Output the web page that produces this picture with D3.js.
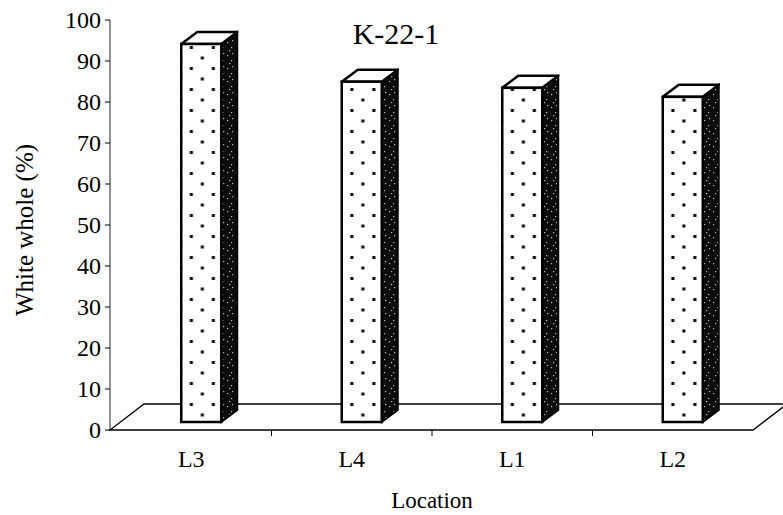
<!DOCTYPE html>
<html lang="en">
<head>
    <meta charset="UTF-8">
    <title>K-22-1 White whole</title>
    <style>
        body { margin: 0; background: #fff; }
        svg { display: block; }
    </style>
    <script src="https://cdn.jsdelivr.net/npm/d3@7"></script>
</head>
<body>
    <div id="chart"></div>

    <script>
        // Data
        const categories = ["L3", "L4", "L1", "L2"];
        const whiteWhole = [92.2, 83, 81.5, 79.3];
        const yTicks = [0, 10, 20, 30, 40, 50, 60, 70, 80, 90, 100];

        const W = 783, H = 515;
        const serif = '"Liberation Serif"';

        const svg = d3.select('#chart').append('svg')
            .attr('width', W)
            .attr('height', H);

        // front edge of the floor = the axis
        const x = d3.scaleBand()
            .domain(categories)
            .range([111, 753]);

        const y = d3.scaleLinear()
            .domain([0, 100])
            .range([430, 20]);

        // pseudo 3d offsets
        const floorDepth = { dx: 34, dy: -26 };
        const barShift = { dx: 10, dy: -8 };   // bars stand a bit behind the front edge
        const barDepth = { dx: 16, dy: -12 };
        const barW = 40;

        const defs = svg.append('defs');

        // dotted front face, one pattern per bar so dots line up with the face
        categories.forEach((c, i) => {
            const left = x(c) + x.bandwidth() / 2 - barW / 2 + barShift.dx;
            const p = defs.append('pattern')
                .attr('id', 'dots' + i)
                .attr('patternUnits', 'userSpaceOnUse')
                .attr('x', left)
                .attr('y', 0)
                .attr('width', 22)
                .attr('height', 21);
            p.append('rect').attr('width', 22).attr('height', 21).attr('fill', '#fff');
            p.append('rect').attr('x', 8.6).attr('y', 4).attr('width', 3).attr('height', 3).attr('fill', '#000');
            p.append('rect').attr('x', 19.6).attr('y', 14.5).attr('width', 3).attr('height', 3).attr('fill', '#000');
            p.append('rect').attr('x', -2.4).attr('y', 14.5).attr('width', 3).attr('height', 3).attr('fill', '#000');
        });

        // dark speckled side face
        const sp = defs.append('pattern')
            .attr('id', 'speckle')
            .attr('patternUnits', 'userSpaceOnUse')
            .attr('width', 9)
            .attr('height', 13);
        sp.append('rect').attr('width', 9).attr('height', 13).attr('fill', '#0c0c0c');
        [[2, 3], [6, 8], [4, 11], [7, 1]].forEach(d => {
            sp.append('rect').attr('x', d[0]).attr('y', d[1])
                .attr('width', 1.2).attr('height', 1.2).attr('fill', '#bbb');
        });

        // floor
        const x0 = 110, x1 = 753, y0 = y(0);
        svg.append('path')
            .attr('d', `M${x0},${y0} L${x1},${y0} L${x1 + floorDepth.dx},${y0 + floorDepth.dy} L${x0 + floorDepth.dx},${y0 + floorDepth.dy} Z`)
            .attr('fill', 'none')
            .attr('stroke', '#000')
            .attr('stroke-width', 1.3);

        // category ticks on the front edge
        svg.selectAll('.xtick')
            .data(categories.slice(1))
            .enter().append('line')
              .attr('x1', d => x(d)).attr('x2', d => x(d))
              .attr('y1', y0).attr('y2', y0 + 6)
              .attr('stroke', '#000');

        svg.selectAll('.xlab')
            .data(categories)
            .enter().append('text')
              .attr('x', d => x(d) + x.bandwidth() / 2)
              .attr('y', 467)
              .attr('text-anchor', 'middle')
              .style('font-family', serif)
              .style('font-size', '24px')
              .text(d => d);

        // y axis
        svg.append('line')
            .attr('x1', x0).attr('x2', x0)
            .attr('y1', y(0)).attr('y2', y(100))
            .attr('stroke', '#222')
            .attr('stroke-width', 1);

        svg.selectAll('.ytick')
            .data(yTicks)
            .enter().append('line')
              .attr('x1', x0 - 5).attr('x2', x0)
              .attr('y1', d => y(d)).attr('y2', d => y(d))
              .attr('stroke', '#000');

        svg.selectAll('.ylab')
            .data(yTicks)
            .enter().append('text')
              .attr('x', x0 - 9)
              .attr('y', d => y(d))
              .attr('dy', '0.35em')
              .attr('text-anchor', 'end')
              .style('font-family', serif)
              .style('font-size', '24px')
              .text(d => d);

        // bars
        const bars = svg.selectAll('.bar')
            .data(categories.map((c, i) => ({ c, v: whiteWhole[i], i })))
            .enter().append('g')
              .attr('class', 'bar');

        const faceL = d => x(d.c) + x.bandwidth() / 2 - barW / 2 + barShift.dx;
        const faceB = () => y(0) + barShift.dy;
        const faceT = d => y(d.v) + barShift.dy;

        // side
        bars.append('path')
            .attr('d', d => {
                const r = faceL(d) + barW, b = faceB(), t = faceT(d);
                return `M${r},${b} L${r + barDepth.dx},${b + barDepth.dy} L${r + barDepth.dx},${t + barDepth.dy} L${r},${t} Z`;
            })
            .attr('fill', 'url(#speckle)')
            .attr('stroke', '#000')
            .attr('stroke-width', 2);

        // top
        bars.append('path')
            .attr('d', d => {
                const l = faceL(d), t = faceT(d);
                return `M${l},${t} L${l + barW},${t} L${l + barW + barDepth.dx},${t + barDepth.dy} L${l + barDepth.dx},${t + barDepth.dy} Z`;
            })
            .attr('fill', '#fff')
            .attr('stroke', '#000')
            .attr('stroke-width', 2.5)
            .attr('stroke-linejoin', 'round');

        // front
        bars.append('rect')
            .attr('x', faceL)
            .attr('y', faceT)
            .attr('width', barW)
            .attr('height', d => faceB() - faceT(d))
            .attr('fill', d => `url(#dots${d.i})`)
            .attr('stroke', '#000')
            .attr('stroke-width', 2.5);

        // title
        svg.append('text')
            .attr('x', 396)
            .attr('y', 44)
            .attr('text-anchor', 'middle')
            .style('font-family', serif)
            .style('font-size', '30px')
            .text('K-22-1');

        // axis titles
        svg.append('text')
            .attr('transform', 'translate(33, 230) rotate(-90)')
            .attr('text-anchor', 'middle')
            .style('font-family', serif)
            .style('font-size', '25px')
            .text('White whole (%)');

        svg.append('text')
            .attr('x', 432)
            .attr('y', 508)
            .attr('text-anchor', 'middle')
            .style('font-family', serif)
            .style('font-size', '23px')
            .text('Location');
    </script>
</body>
</html>
